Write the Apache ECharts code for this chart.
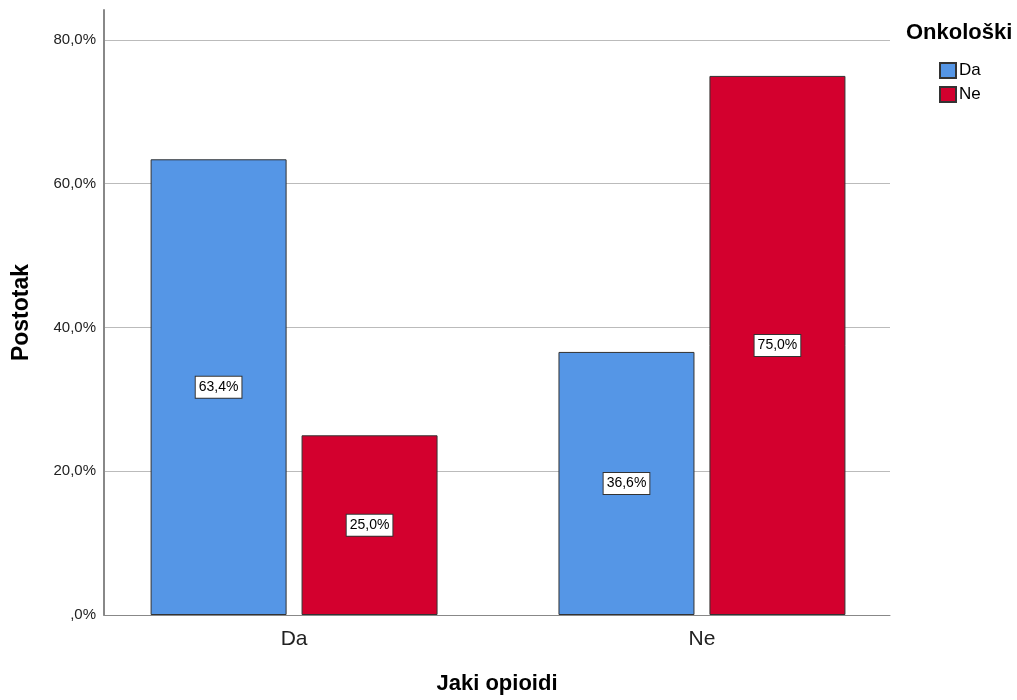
<!DOCTYPE html>
<html>
<head>
<meta charset="utf-8">
<script src="https://cdn.jsdelivr.net/npm/echarts@6/dist/echarts.min.js"></script>
<style>html,body{margin:0;padding:0;background:#fff}#c{width:1017px;height:700px}</style>
</head>
<body>
<div id="c"></div>
<script>
const categories = ['Da', 'Ne'];
const seriesNames = ['Da', 'Ne'];
const valuesDa = [63.4, 36.6];
const valuesNe = [25.0, 75.0];
const yTicks = [0, 20, 40, 60, 80];

const FONT = 'Arial, Liberation Sans, sans-serif';
const fmt = v => (v === 0 ? ',0%' : v.toFixed(1).replace('.', ',') + '%');
const chart = echarts.init(document.getElementById('c'));
const labelStyle = {
  show: true, position: 'inside', color: '#000', fontFamily: FONT, fontSize: 14,
  backgroundColor: '#fff', borderColor: '#333', borderWidth: 1, padding: [4, 3, 3, 3],
  formatter: p => fmt(p.value[1])
};
chart.setOption({
  animation: false,
  title: { text: 'Onkološki', left: 901, top: 17, textStyle: { fontFamily: FONT, fontSize: 22, fontWeight: 'bold', color: '#000' } },
  legend: {
    orient: 'vertical', left: 934, top: 57, itemWidth: 16, itemHeight: 15, itemGap: 7,
    data: seriesNames, icon: 'rect',
    textStyle: { fontFamily: FONT, fontSize: 17, color: '#000', padding: [0, 0, 0, -2] }
  },
  grid: { left: 104, right: 127, top: 10, bottom: 85, containLabel: false, outerBoundsMode: 'none' },
  xAxis: {
    type: 'value', min: -0.466, max: 1.461,
    name: 'Jaki opioidi', nameLocation: 'middle', nameGap: 58,
    nameTextStyle: { fontFamily: FONT, fontSize: 22, fontWeight: 'bold', color: '#000' },
    axisLine: { show: true, onZero: false, lineStyle: { color: '#888', width: 1 } },
    axisTick: { show: false },
    splitLine: { show: false },
    axisLabel: { customValues: [0, 1], formatter: v => categories[Math.round(v)], fontFamily: FONT, fontSize: 21, color: '#222', margin: 14 }
  },
  yAxis: {
    type: 'value', min: 0, max: 84.17, interval: 20,
    name: 'Postotak', nameLocation: 'middle', nameGap: 71, nameRotate: 90,
    nameTextStyle: { fontFamily: FONT, fontSize: 23, fontWeight: 'bold', color: '#000' },
    axisLine: { show: true, onZero: false, lineStyle: { color: '#888', width: 2 } },
    axisTick: { show: false },
    splitLine: { show: true, showMaxLine: false, lineStyle: { color: '#bbb', width: 1 } },
    axisLabel: { customValues: yTicks, formatter: fmt, fontFamily: FONT, fontSize: 15, color: '#222', margin: 8 }
  },
  series: [
    { name: seriesNames[0], type: 'bar', barWidth: 136, barGap: '11%', data: valuesDa.map((v, i) => [i, v]),
      itemStyle: { color: '#5596e6', borderColor: '#333', borderWidth: 1 }, label: labelStyle },
    { name: seriesNames[1], type: 'bar', barWidth: 136, barGap: '11%', data: valuesNe.map((v, i) => [i, v]),
      itemStyle: { color: '#d3002e', borderColor: '#333', borderWidth: 1 }, label: labelStyle }
  ]
});
</script>
</body>
</html>
